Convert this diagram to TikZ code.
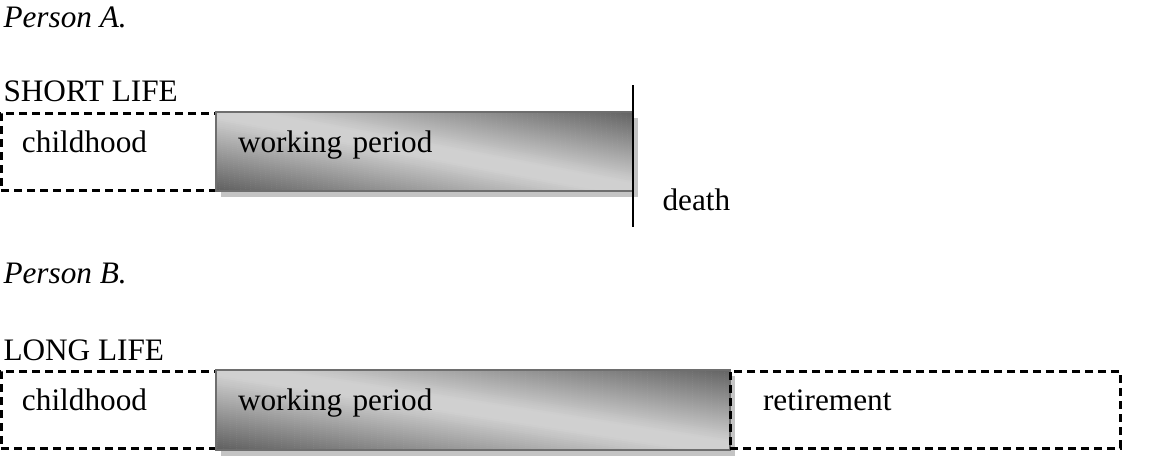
\documentclass[tikz,border=0pt]{standalone}
\usepackage{fontspec}
\setmainfont{Liberation Serif}
\usetikzlibrary{positioning,shadows,calc}
\definecolor{shadeDark}{RGB}{98,98,98}
\definecolor{shadeLight}{RGB}{208,208,208}
\definecolor{rimGray}{RGB}{110,110,110}
\definecolor{shadowGray}{RGB}{196,196,196}
\tikzset{
phase/.style={draw, line width=1.2pt, dash pattern=on 3.2pt off 2pt, inner sep=0pt, inner xsep=8.4pt, outer sep=0pt,
  minimum height=30.8pt, text height=8pt, text depth=7.6pt, align=left},
work/.style={draw=rimGray, line width=0.8pt, inner sep=0pt, inner xsep=8.8pt, outer sep=0pt, minimum height=31.6pt,
  text height=8pt, text depth=7.6pt, align=left, fill=shadeLight,
  drop shadow={shadow xshift=2pt, shadow yshift=-2.4pt, fill=shadowGray, opacity=1},
  path picture={
    \coordinate (pnw) at (path picture bounding box.north west);
    \coordinate (pne) at (path picture bounding box.north east);
    \coordinate (psw) at (path picture bounding box.south west);
    \coordinate (pse) at (path picture bounding box.south east);
    % strips along the diagonal, light in the middle
    \foreach \s in {-1,-0.975,...,0.975}{
      \pgfmathsetmacro\lvl{min(100,max(0,(abs(\s)-0.08)*110))}
      \fill[shadeDark!\lvl!shadeLight] ($(pnw)!\s!(pne)$) -- ($(pnw)!{\s+0.03}!(pne)$)
        -- ($(psw)!{\s+1.03}!(pse)$) -- ($(psw)!{\s+1}!(pse)$) -- cycle;
    }
  }},
head/.style={anchor=base west, inner sep=0pt}
}

\begin{document}
\begin{tikzpicture}[x=0.4pt, y=-0.4pt, font=\fontsize{12.5pt}{15pt}\selectfont]
\useasboundingbox (0,0) rectangle (1168,455);

% Person A
\node[head] (titleA) at (3,27) {\itshape Person A.};
\node[head] (shortlife) at (3,101) {SHORT LIFE};
\node[phase, anchor=north west, text width=69.2pt] (childA) at (1,113) {childhood};
\node[work, right=0pt of childA, text width=149.2pt] (workA) {working period};
\draw[line width=1pt] ([yshift=10.8pt]workA.north east) -- ([yshift=-14.4pt]workA.south east);
\node[head] (death) at (662,210) {death};

% Person B
\node[head] (titleB) at (3,283) {\itshape Person B.};
\node[head] (longlife) at (3,360) {LONG LIFE};
\node[phase, anchor=north west, text width=69.2pt] (childB) at (1,371) {childhood};
\node[work, right=0pt of childB, text width=188pt, minimum height=32pt] (workB) {working period};
\node[phase, right=0pt of workB, inner xsep=13.2pt, text width=129.6pt] (retire) {retirement};
\end{tikzpicture}
\end{document}
